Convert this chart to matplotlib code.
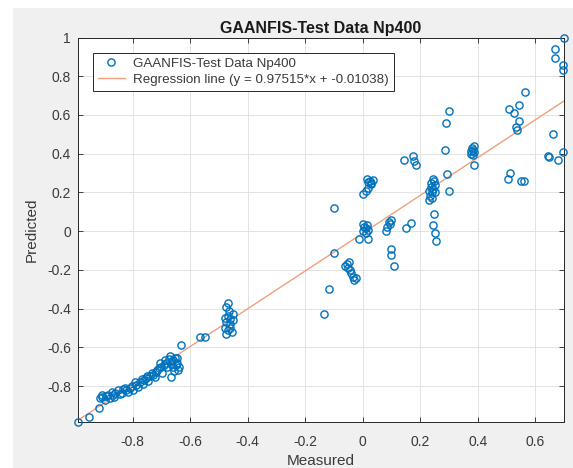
import matplotlib
matplotlib.use("Agg")
import matplotlib.pyplot as plt
from matplotlib.patches import Rectangle
import numpy as np

plt.rcParams['font.family'] = ['Liberation Sans', 'DejaVu Sans']

title = "GAANFIS-Test Data Np400"
slope = 0.97515
intercept = -0.01038

# measured / predicted pairs
measured = [
    -0.99, -0.953, -0.918,
    -0.915, -0.908, -0.897, -0.887, -0.873, -0.866, -0.852, -0.838, -0.827, -0.817,
    -0.803, -0.792, -0.782, -0.768, -0.764, -0.75, -0.747, -0.733, -0.722, -0.716,
    -0.705, -0.698, -0.688, -0.681, -0.67, -0.663, -0.66, -0.667, -0.653, -0.646,
    -0.642, -0.632, -0.565, -0.548,
    -0.905, -0.893, -0.88, -0.87, -0.86, -0.845, -0.835, -0.822, -0.81, -0.8,
    -0.79, -0.775, -0.76, -0.755, -0.74, -0.728, -0.72, -0.71, -0.7, -0.692,
    -0.685, -0.675, -0.668, -0.658, -0.65, -0.645, -0.64, -0.655,
    -0.47, -0.475, -0.465, -0.452, -0.48, -0.475, -0.46, -0.48, -0.47, -0.455,
    -0.462, -0.45, -0.47, -0.477, -0.46,
    -0.10, -0.133, -0.118, -0.10,
    -0.055, -0.05, -0.045, -0.04, -0.035, -0.03, -0.024, -0.06, -0.048,
    -0.013,
    0.0, 0.005, 0.01, 0.015, 0.02, 0.012, 0.0, 0.02,
    0.015, 0.025, 0.03, 0.02, 0.01, 0.035, 0.0, 0.028, 0.02,
    0.085, 0.09, 0.1, 0.08, 0.095,
    0.098, 0.1, 0.108,
    0.15, 0.168,
    0.143, 0.174, 0.185, 0.18,
    0.23, 0.235, 0.24, 0.245, 0.25, 0.238, 0.248, 0.232, 0.242, 0.25, 0.236, 0.245,
    0.248, 0.244, 0.25, 0.255,
    0.30, 0.29, 0.285, 0.293, 0.30,
    0.378, 0.382, 0.386, 0.38, 0.388, 0.375, 0.384,
    0.388,
    0.563, 0.545, 0.51, 0.527, 0.545, 0.534, 0.536,
    0.663,
    0.643, 0.647, 0.68, 0.695,
    0.513, 0.507, 0.55, 0.562,
    0.70, 0.667, 0.667, 0.695, 0.698,
]
predicted = [
    -0.985, -0.96, -0.915,
    -0.86, -0.845, -0.87, -0.845, -0.83, -0.855, -0.82, -0.835, -0.81, -0.83,
    -0.80, -0.78, -0.805, -0.765, -0.79, -0.75, -0.775, -0.73, -0.755, -0.715,
    -0.68, -0.73, -0.665, -0.70, -0.645, -0.67, -0.70, -0.755, -0.655, -0.68,
    -0.715, -0.59, -0.545, -0.545,
    -0.855, -0.85, -0.86, -0.845, -0.835, -0.84, -0.815, -0.82, -0.81, -0.82,
    -0.795, -0.78, -0.77, -0.76, -0.745, -0.74, -0.725, -0.705, -0.7, -0.69,
    -0.68, -0.66, -0.685, -0.665, -0.69, -0.655, -0.7, -0.72,
    -0.37, -0.39, -0.41, -0.43, -0.45, -0.47, -0.48, -0.50, -0.51, -0.52,
    -0.50, -0.46, -0.44, -0.53, -0.455,
    0.12, -0.43, -0.30, -0.115,
    -0.17, -0.19, -0.20, -0.215, -0.235, -0.25, -0.24, -0.18, -0.16,
    -0.04,
    0.0, 0.02, 0.015, 0.03, 0.005, -0.01, 0.035, -0.04,
    0.27, 0.26, 0.245, 0.225, 0.21, 0.265, 0.19, 0.25, 0.255,
    0.02, 0.05, 0.06, 0.0, 0.035,
    -0.09, -0.125, -0.18,
    0.015, 0.04,
    0.37, 0.39, 0.34, 0.36,
    0.16, 0.18, 0.2, 0.22, 0.24, 0.25, 0.26, 0.21, 0.17, 0.2, 0.23, 0.27,
    0.09, 0.03, -0.01, -0.05,
    0.62, 0.56, 0.42, 0.295, 0.21,
    0.40, 0.42, 0.44, 0.43, 0.41, 0.415, 0.395,
    0.34,
    0.72, 0.65, 0.63, 0.61, 0.57, 0.54, 0.52,
    0.50,
    0.39, 0.385, 0.37, 0.41,
    0.30, 0.27, 0.26, 0.26,
    1.0, 0.94, 0.895, 0.86, 0.83,
]

xticks = [-0.8, -0.6, -0.4, -0.2, 0, 0.2, 0.4, 0.6]
yticks = [-0.8, -0.6, -0.4, -0.2, 0, 0.2, 0.4, 0.6, 0.8, 1]

W, H = 573, 468
fig = plt.figure(figsize=(W / 100, H / 100), dpi=100)
fig.patch.set_facecolor('white')
fig.patches.append(Rectangle((13 / W, 0), 1, 1 - 8 / H, transform=fig.transFigure,
                             facecolor='#f0f0f0', edgecolor='none', zorder=-10))

ax = fig.add_axes([78 / W, 1 - 422 / H, (564 - 78) / W, (422 - 37.5) / H])
ax.set_facecolor('white')

x = np.array(measured)
y = np.array(predicted)
ax.plot(x, y, 'o', markerfacecolor='none', markeredgecolor='#0072BD',
        markersize=5.2, markeredgewidth=1.0, label=title, clip_on=False, zorder=3)
xl = np.array([x.min(), x.max()])
ax.plot(xl, slope * xl + intercept, color='#EFA07E', linewidth=1.0,
        label=f"Regression line (y = {slope}*x + {intercept})", zorder=2)

ax.set_xlim(x.min(), x.max())
ax.set_ylim(y.min(), y.max())
ax.set_xticks(xticks)
ax.set_yticks(yticks)
ax.set_xticklabels([f"{t:g}" for t in xticks])
ax.set_yticklabels([f"{t:g}" for t in yticks])

txtc = '#3a3a3a'
ax.grid(True, color='#e3e3e3', linewidth=0.7)
ax.set_axisbelow(True)
ax.tick_params(direction='in', length=3.5, width=0.6, colors='#262626',
               labelcolor=txtc, labelsize=10, top=True, right=True)
ax.tick_params(axis='x', pad=9)
ax.tick_params(axis='y', pad=5)
for s in ax.spines.values():
    s.set_color('#262626')
    s.set_linewidth(0.7)

ax.set_title(title, fontsize=11.5, fontweight='bold', color='#1a1a1a', pad=3)
ax.set_xlabel("Measured", fontsize=11, color=txtc, labelpad=4)
ax.set_ylabel("Predicted", fontsize=11, color=txtc, labelpad=6)

leg = ax.legend(loc='upper left', bbox_to_anchor=(15 / 486, 1 - 15 / 384.5),
                fontsize=9.6, frameon=True, fancybox=False, borderaxespad=0,
                handlelength=2.0, handletextpad=0.6, borderpad=0.38,
                labelspacing=0.25, edgecolor='#262626', framealpha=1)
leg.get_frame().set_linewidth(0.7)
for t in leg.get_texts():
    t.set_color(txtc)

fig.savefig("out.png", dpi=100, facecolor=fig.get_facecolor())
